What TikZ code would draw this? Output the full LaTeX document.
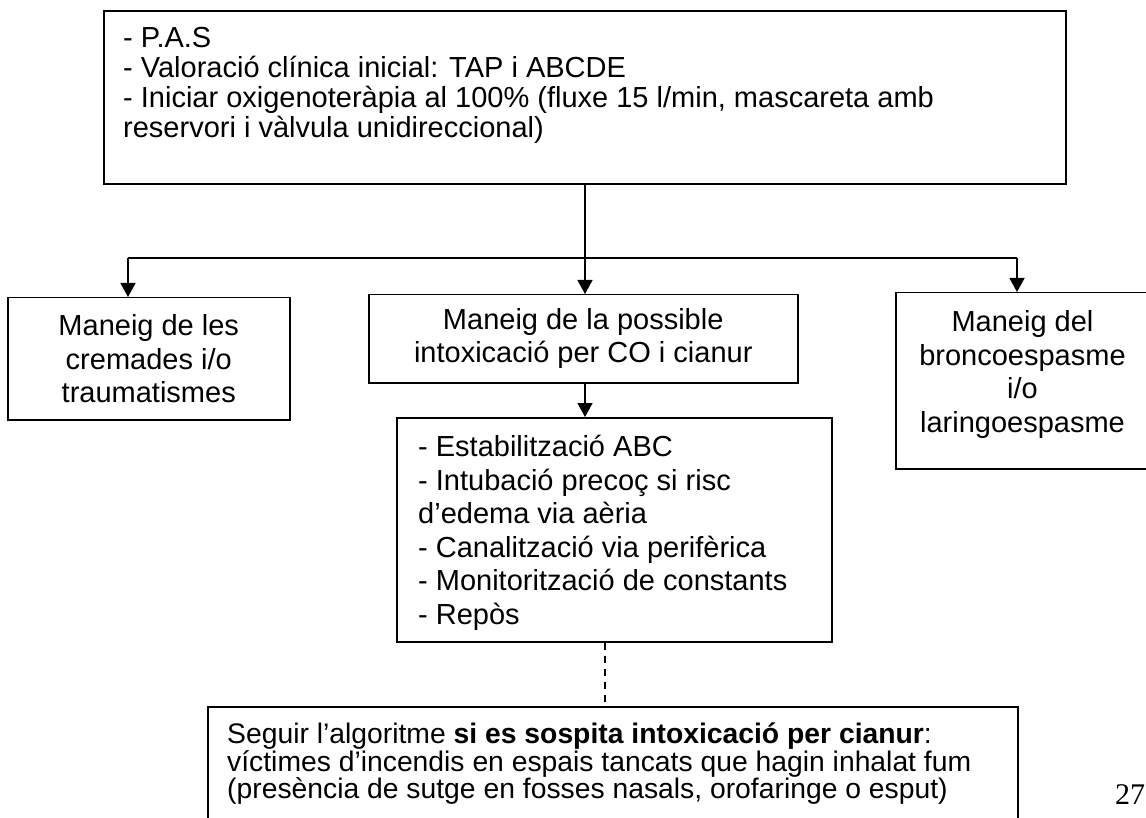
\documentclass[tikz,border=0pt]{standalone}
\usepackage{fontspec}
\setmainfont{Liberation Sans}
\newfontfamily\pgnumfont{Liberation Serif}
\usetikzlibrary{arrows.meta}
\newcommand\myfontA{\fontsize{29}{33.5}\selectfont}
\newcommand\myfontTop{\fontsize{29}{30}\selectfont}
\newcommand\myfontBot{\fontsize{28.3}{27.5}\selectfont}
\begin{document}
\begin{tikzpicture}[x=1pt,y=-1pt,
  box/.style={draw, line width=1.5pt, inner sep=0pt, anchor=north west},
  txt/.style={inner sep=0pt},
  conn/.style={line width=1.4pt},
  arr/.style={line width=1.4pt, -{Triangle[length=14pt,width=15pt]}},
  dashline/.style={line width=1.2pt, dash pattern=on 7pt off 6pt}]
\clip (0,0) rectangle (1146,818);
\fill[white] (0,0) rectangle (1146,818);
% boxes
\node[box, line width=2pt, minimum width=962pt, minimum height=173pt] (topbox) at (103,10) {};
\node[txt, anchor=north west, align=left, font=\myfontTop] (toptext) at (123,27.5)
  {- P.A.S\\
   - Valoració clínica inicial: TAP i ABCDE\\
   - Iniciar oxigenoteràpia al 100\% (fluxe 15 l/min, mascareta amb\\
   reservori i vàlvula unidireccional)};
\node[box, minimum width=282pt, minimum height=122pt, align=center, font=\myfontA] (leftbox) at (7,297)
  {Maneig de les\\cremades i/o\\traumatismes};
\node[box, minimum width=429pt, minimum height=88pt, align=center, font=\myfontA] (midbox) at (368,294)
  {Maneig de la possible\\intoxicació per CO i cianur};
\node[box, minimum width=255pt, minimum height=176pt] (rightbox) at (895,292) {};
\node[txt, align=center, font=\myfontA] (righttext) at (1022.5,374.5)
  {Maneig del\\broncoespasme\\i/o\\laringoespasme};
\node[box, minimum width=435pt, minimum height=224pt] (stepbox) at (396,417) {};
\node[txt, anchor=north west, align=left, font=\myfontA] (steptext) at (418,435)
  {- Estabilització ABC\\
   - Intubació precoç si risc\\
   d’edema via aèria\\
   - Canalització via perifèrica\\
   - Monitorització de constants\\
   - Repòs};
\node[box, minimum width=810pt, minimum height=130pt] (botbox) at (207,706) {};
\node[txt, anchor=north west, align=left, font=\myfontBot] (bottext) at (227,723)
  {Seguir l’algoritme \textbf{si es sospita intoxicació per cianur}:\\
   víctimes d’incendis en espais tancats que hagin inhalat fum\\
   (presència de sutge en fosses nasals, orofaringe o esput)};
\node[txt, font=\pgnumfont\fontsize{30}{30}\selectfont] (pgnum) at (1130,795) {27};
% connectors
\coordinate (bl) at (128,258);
\coordinate (br) at (1017,258);
\coordinate (dx) at (605,0);
\draw[conn] (bl) -- (br);
\draw[arr] (topbox.south) -- (topbox.south |- midbox.north);
\draw[arr] (bl) -- (bl |- leftbox.north);
\draw[arr] (br) -- (br |- rightbox.north);
\draw[arr] (midbox.south -| topbox.south) -- (stepbox.north -| topbox.south);
\draw[dashline] (stepbox.south -| dx) -- (botbox.north -| dx);
\end{tikzpicture}
\end{document}
